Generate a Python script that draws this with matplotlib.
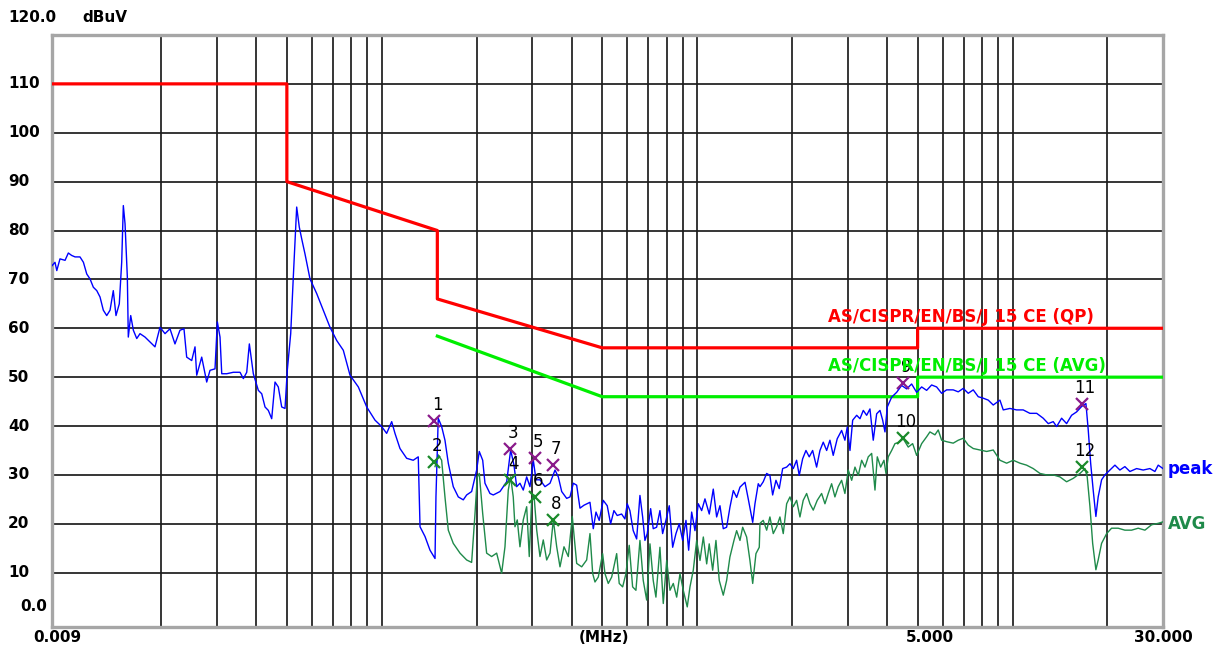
import matplotlib
matplotlib.use("Agg")
import matplotlib.pyplot as plt
from matplotlib.transforms import blended_transform_factory as blend

# ---------------- data ----------------
peak_freq = [
    0.009, 0.0092, 0.00932, 0.00954, 0.0099, 0.01014, 0.01039, 0.01065, 0.01104, 0.01132,
    0.0116, 0.01188, 0.01217, 0.01248, 0.01278, 0.01309, 0.01342, 0.01375, 0.01408, 0.01436,
    0.01471, 0.01497, 0.01515, 0.01534, 0.0156, 0.01571, 0.01599, 0.0163, 0.01671, 0.01711,
    0.01775, 0.01841, 0.01909, 0.0198, 0.02054, 0.0213, 0.02209, 0.02291, 0.02359, 0.02406,
    0.02496, 0.02557, 0.02589, 0.02685, 0.02785, 0.02853, 0.02959, 0.0301, 0.03069, 0.03108,
    0.03223, 0.03382, 0.03552, 0.03639, 0.0373, 0.03802, 0.03914, 0.0406, 0.04162, 0.04263,
    0.04367, 0.04476, 0.04586, 0.04697, 0.04815, 0.04933, 0.05016, 0.05142, 0.05241, 0.05372,
    0.05475, 0.05572, 0.05708, 0.0592, 0.06217, 0.06524, 0.06852, 0.07195, 0.0755, 0.07929,
    0.08425, 0.08957, 0.09517, 0.0999, 0.1036, 0.1075, 0.1101, 0.1142, 0.1199, 0.1258,
    0.1305, 0.1322, 0.1371, 0.1422, 0.1475, 0.1485, 0.151, 0.1548, 0.1586, 0.1625,
    0.1685, 0.1748, 0.1813, 0.1858, 0.1927, 0.1999, 0.2037, 0.2089, 0.2124, 0.2203,
    0.2257, 0.237, 0.2489, 0.2562, 0.2625, 0.2677, 0.2742, 0.2809, 0.288, 0.295,
    0.3023, 0.3083, 0.3174, 0.3292, 0.3415, 0.3542, 0.3628, 0.3719, 0.3857, 0.3952,
    0.4048, 0.4149, 0.425, 0.4376, 0.4572, 0.4684, 0.4777, 0.4891, 0.5036, 0.5186,
    0.5316, 0.5446, 0.5578, 0.576, 0.5901, 0.6001, 0.612, 0.627, 0.6428, 0.6585,
    0.6716, 0.683, 0.6946, 0.712, 0.7256, 0.7438, 0.762, 0.7771, 0.7961, 0.8156,
    0.8362, 0.8566, 0.8774, 0.8995, 0.9215, 0.9398, 0.9606, 0.9841, 1.0081, 1.0334,
    1.0586, 1.0924, 1.1248, 1.1529, 1.181, 1.21, 1.24, 1.2704, 1.302, 1.334,
    1.367, 1.418, 1.452, 1.5, 1.525, 1.5622, 1.582, 1.62, 1.661, 1.701,
    1.7352, 1.7775, 1.8208, 1.8666, 1.922, 1.969, 2.017, 2.067, 2.107, 2.16,
    2.2127, 2.2666, 2.3236, 2.392, 2.451, 2.5107, 2.574, 2.6363, 2.7004, 2.7805,
    2.871, 2.941, 2.992, 3.0517, 3.1124, 3.205, 3.283, 3.363, 3.447, 3.531,
    3.617, 3.7083, 3.799, 3.8744, 3.94, 4.007, 4.137, 4.291, 4.45, 4.616,
    4.787, 4.965, 5.15, 5.341, 5.539, 5.745, 5.959, 6.18, 6.485, 6.727,
    6.978, 7.237, 7.506, 7.785, 8.074, 8.375, 8.686, 9.122, 9.344, 9.812,
    10.30, 10.81, 11.35, 11.93, 12.51, 12.98, 13.46, 13.80, 14.31, 14.84,
    15.39, 15.97, 16.56, 17.09, 17.38, 17.69, 18.02, 18.38, 18.69, 19.16,
    19.63, 20.36, 21.12, 21.90, 22.71, 23.56, 24.74, 25.96, 27.26, 28.28,
    28.97, 30.0,
]
peak_level = [
    72.8, 73.5, 71.8, 74.2, 73.9, 75.4, 74.9, 74.6, 74.6, 73.5,
    71.1, 70.1, 68.4, 67.7, 66.4, 63.7, 62.6, 63.7, 67.7, 62.6,
    65.0, 73.5, 85.1, 81.4, 70.5, 58.2, 62.6, 59.6, 57.9, 58.9,
    58.2, 57.2, 56.2, 60.2, 58.9, 59.9, 56.8, 59.6, 59.9, 54.1,
    53.4, 56.2, 50.4, 54.1, 49.0, 51.4, 51.7, 61.3, 58.2, 50.7,
    50.7, 51.0, 51.0, 49.7, 51.0, 56.8, 50.7, 47.3, 46.6, 43.9,
    43.2, 41.5, 49.0, 48.0, 43.9, 43.6, 51.4, 58.9, 70.5, 84.8,
    80.7, 78.3, 75.2, 70.1, 67.1, 63.7, 60.2, 57.5, 55.5, 50.4,
    48.0, 43.9, 41.2, 39.9, 38.5, 40.9, 38.5, 35.4, 33.4, 33.0,
    33.7, 19.4, 17.4, 14.6, 12.9, 25.5, 41.6, 39.9, 37.1, 32.4,
    27.6, 25.5, 24.9, 25.9, 26.6, 31.0, 34.8, 33.0, 28.3, 26.2,
    25.9, 26.6, 28.6, 35.1, 32.0, 27.6, 28.3, 26.9, 29.6, 27.6,
    33.0, 29.0, 29.0, 27.6, 28.3, 31.0, 29.6, 26.6, 25.2, 25.5,
    28.3, 27.9, 23.2, 23.8, 24.4, 19.0, 22.4, 20.7, 24.8, 23.7,
    20.0, 22.7, 21.7, 22.0, 21.0, 24.1, 22.7, 18.6, 16.9, 25.8,
    21.4, 16.6, 18.0, 23.1, 19.0, 19.3, 22.7, 18.0, 20.7, 23.7,
    15.2, 18.0, 20.0, 16.6, 20.7, 14.6, 22.4, 18.6, 24.1, 22.7,
    25.1, 22.0, 27.1, 21.4, 23.7, 19.0, 19.3, 23.4, 26.8, 25.4,
    27.5, 28.5, 25.1, 20.3, 24.1, 28.2, 27.6, 28.6, 30.3, 29.9,
    25.9, 28.9, 27.2, 31.3, 31.6, 32.3, 31.3, 33.0, 29.9, 33.3,
    35.0, 33.7, 35.0, 31.6, 35.0, 36.7, 35.0, 37.1, 34.0, 37.4,
    39.1, 37.1, 39.8, 35.0, 41.2, 42.2, 41.5, 43.2, 42.2, 43.5,
    37.1, 42.5, 43.2, 41.2, 38.8, 43.9, 45.9, 46.9, 48.3, 47.6,
    48.6, 46.9, 48.0, 47.3, 48.4, 48.0, 46.7, 47.4, 47.4, 47.0,
    47.7, 46.7, 47.4, 46.0, 45.7, 45.3, 44.3, 45.3, 43.3, 43.6,
    43.3, 43.3, 42.6, 42.6, 41.6, 40.5, 40.9, 39.9, 41.6, 40.5,
    42.2, 42.9, 44.0, 44.6, 39.2, 32.4, 26.9, 21.5, 25.5, 29.0,
    30.0, 31.0, 32.0, 31.0, 31.7, 30.7, 31.3, 31.0, 31.3, 30.7,
    32.0, 31.3,
]

avg_freq = [
    0.1475, 0.151, 0.1548, 0.1586, 0.1625, 0.1685, 0.177, 0.1858, 0.1927, 0.1975,
    0.2008, 0.2037, 0.2089, 0.215, 0.223, 0.2313, 0.2399, 0.2458, 0.2518, 0.2562,
    0.2611, 0.2644, 0.2689, 0.2742, 0.2809, 0.288, 0.2935, 0.2987, 0.3038, 0.3099,
    0.3174, 0.3251, 0.3333, 0.3415, 0.3498, 0.3586, 0.3673, 0.3782, 0.3903, 0.4018,
    0.4149, 0.4304, 0.4463, 0.4572, 0.4664, 0.4742, 0.4858, 0.5014, 0.5101, 0.5225,
    0.5357, 0.5556, 0.566, 0.5804, 0.5945, 0.6089, 0.6242, 0.6395, 0.6585, 0.6746,
    0.6916, 0.7085, 0.7256, 0.74, 0.762, 0.7808, 0.8005, 0.82, 0.84, 0.8611,
    0.8821, 0.9036, 0.9302, 0.9489, 0.972, 0.9964, 1.021, 1.046, 1.072, 1.092,
    1.1199, 1.147, 1.1751, 1.21, 1.24, 1.27, 1.3082, 1.334, 1.367, 1.3941,
    1.435, 1.47, 1.5, 1.5361, 1.5737, 1.582, 1.62, 1.661, 1.701, 1.743,
    1.787, 1.83, 1.875, 1.922, 1.969, 2.017, 2.067, 2.118, 2.169, 2.224,
    2.278, 2.334, 2.4028, 2.481, 2.542, 2.604, 2.669, 2.734, 2.801, 2.871,
    2.941, 3.014, 3.09, 3.165, 3.2421, 3.3235, 3.4045, 3.4876, 3.5753, 3.663,
    3.725, 3.8184, 3.9113, 3.969, 4.036, 4.137, 4.238, 4.3732, 4.503, 4.67,
    4.822, 4.965, 5.15, 5.341, 5.471, 5.675, 5.813, 5.959, 6.18, 6.485,
    6.727, 6.978, 7.237, 7.506, 7.883, 8.278, 8.686, 9.122, 9.579, 10.05,
    10.56, 11.08, 11.63, 12.22, 12.83, 13.46, 14.13, 14.84, 15.58, 16.36,
    16.97, 17.25, 17.6, 17.95, 18.38, 18.69, 19.16, 19.88, 20.61, 21.63,
    22.71, 23.85, 25.03, 26.29, 27.6, 28.97, 30.0,
]
avg_level = [
    31.7, 34.1, 33.0, 25.5, 18.7, 16.0, 14.0, 12.6, 12.1, 22.1,
    29.6, 30.3, 22.1, 14.0, 13.3, 14.0, 9.9, 15.3, 26.9, 29.6,
    25.5, 19.4, 20.8, 15.3, 20.8, 23.5, 13.3, 24.9, 25.9, 18.7,
    13.3, 16.7, 12.6, 14.0, 20.8, 15.3, 11.2, 15.3, 13.3, 21.5,
    11.9, 11.2, 12.6, 18.0, 9.8, 8.1, 9.1, 13.9, 9.8, 7.8,
    9.1, 13.9, 7.8, 7.1, 9.8, 15.6, 7.1, 6.4, 16.6, 8.4,
    4.4, 15.9, 8.4, 5.0, 15.2, 3.7, 12.5, 6.4, 7.8, 5.0,
    9.8, 6.4, 3.0, 7.1, 10.5, 16.6, 12.5, 17.3, 11.8, 15.9,
    10.5, 16.6, 8.4, 5.4, 8.4, 13.2, 16.6, 18.6, 16.6, 19.3,
    17.3, 12.5, 7.8, 13.9, 15.2, 20.1, 20.7, 18.7, 21.4, 18.0,
    19.4, 21.4, 18.0, 24.1, 25.5, 23.5, 24.8, 21.4, 24.8, 26.2,
    24.1, 22.8, 24.8, 26.2, 24.1, 26.2, 28.2, 25.5, 27.6, 28.9,
    26.2, 31.0, 28.9, 31.6, 29.9, 33.0, 31.6, 33.7, 34.4, 26.9,
    33.7, 31.6, 33.0, 30.3, 33.7, 35.0, 36.4, 36.7, 37.4, 35.7,
    36.4, 34.0, 36.4, 37.8, 38.8, 38.2, 39.2, 37.1, 36.8, 36.5,
    37.1, 37.5, 36.1, 35.4, 35.1, 34.8, 35.1, 33.0, 32.4, 33.0,
    32.4, 32.0, 31.3, 30.3, 30.0, 30.0, 29.6, 28.6, 29.3, 30.3,
    31.3, 29.6, 23.5, 16.0, 10.6, 12.6, 16.0, 18.0, 19.1, 19.1,
    18.7, 18.7, 19.1, 18.7, 19.8, 20.1, 20.4,
]

qp_limit_freq = [0.009, 0.05, 0.05, 0.15, 0.15, 0.5, 5.0, 5.0, 30.0]
qp_limit_level = [110, 110, 90, 80, 66, 56, 56, 60, 60]
avg_limit_freq = [0.15, 0.5, 5.0, 5.0, 30.0]
avg_limit_level = [58.4, 46, 46, 50, 50]

marker_freq = [0.146, 0.146, 0.255, 0.255, 0.306, 0.306, 0.348, 0.348, 4.48, 4.48, 16.56, 16.56]
marker_level = [41.1, 32.7, 35.4, 29.0, 33.4, 25.4, 32.0, 20.8, 48.9, 37.5, 44.5, 31.7]
marker_label = ["1", "2", "3", "4", "5", "6", "7", "8", "9", "10", "11", "12"]

grid_freq = [0.02, 0.03, 0.04, 0.05, 0.06, 0.07, 0.08, 0.09,
             0.1, 0.2, 0.3, 0.4, 0.5, 0.6, 0.7, 0.8, 0.9,
             1, 2, 3, 4, 5, 6, 7, 8, 9, 10, 20]
y_ticks = [10, 20, 30, 40, 50, 60, 70, 80, 90, 100, 110]
x_tick_freq = [0.009, 5.0, 30.0]
x_tick_label = ["0.009", "5.000", "30.000"]

# ---------------- styling ----------------
PEAK_C = "#0000ff"
AVG_C = "#1f8a4a"
QP_LIM_C = "#ff0000"
AVG_LIM_C = "#00ee00"
PK_MK_C = "#8a1a8a"
AV_MK_C = "#1a8a2a"

plt.rcParams["font.family"] = ["DejaVu Sans"]

W, H = 1218, 648
fig = plt.figure(figsize=(W / 100, H / 100), dpi=100)
fig.patch.set_facecolor("white")
ax = fig.add_axes([52 / W, 21.3 / H, (1163 - 52) / W, (626.7 - 34.5) / H])
ax.set_xscale("log")
ax.set_xlim(0.009, 30)
ax.set_ylim(-1.05, 120.1)

ax.set_xticks(grid_freq)
ax.set_xticks([], minor=True)
ax.set_yticks(y_ticks)
ax.tick_params(which="both", length=0, labelbottom=False, labelleft=False)
ax.grid(True, color="#1c1c1c", lw=1.25)
ax.set_axisbelow(True)
for s in ax.spines.values():
    s.set_color("#a6a6a6")
    s.set_linewidth(2.4)

# limit lines
ax.plot(qp_limit_freq, qp_limit_level, color=QP_LIM_C, lw=2.3, zorder=3)
ax.plot(avg_limit_freq, avg_limit_level, color=AVG_LIM_C, lw=2.3, zorder=3)

# traces
ax.plot(avg_freq, avg_level, color=AVG_C, lw=1.0, zorder=4)
ax.plot(peak_freq, peak_level, color=PEAK_C, lw=1.0, zorder=5)

# markers
for i, (f, v, lab) in enumerate(zip(marker_freq, marker_level, marker_label)):
    c = PK_MK_C if i % 2 == 0 else AV_MK_C
    ax.plot([f], [v], marker="x", ms=8, mew=1.6, color=c, zorder=6, ls="none")
    ax.annotate(lab, xy=(f, v), xytext=(2.5, 5.0), textcoords="offset points",
                ha="center", va="bottom", fontsize=12, color="black", zorder=7)

# limit labels
ax.text(2.6, 62.4, "AS/CISPR/EN/BS/J 15 CE (QP)", color=QP_LIM_C, fontsize=12,
        fontweight="bold", ha="left", va="center", zorder=7)
ax.text(2.6, 52.3, "AS/CISPR/EN/BS/J 15 CE (AVG)", color=AVG_LIM_C, fontsize=12,
        fontweight="bold", ha="left", va="center", zorder=7)

# trace labels at right
tr_r = blend(ax.transAxes, ax.transData)
ax.text(1.004, 31.2, "peak", transform=tr_r, color=PEAK_C, fontsize=12,
        fontweight="bold", ha="left", va="center", clip_on=False)
ax.text(1.004, 20.0, "AVG", transform=tr_r, color=AVG_C, fontsize=12,
        fontweight="bold", ha="left", va="center", clip_on=False)

# y labels
tr_y = blend(fig.transFigure, ax.transData)
for v in y_ticks:
    ax.text(8 / W, v, str(v), transform=tr_y, ha="left", va="center",
            fontsize=11, fontweight="bold", clip_on=False)
ax.text(20 / W, 3.0, "0.0", transform=tr_y, ha="left", va="center",
        fontsize=11, fontweight="bold", clip_on=False)
fig.text(8 / W, 1 - 18 / H, "120.0", ha="left", va="center", fontsize=11, fontweight="bold")
fig.text(82 / W, 1 - 17 / H, "dBuV", ha="left", va="center", fontsize=11, fontweight="bold")

# x labels
tr_x = blend(ax.transData, fig.transFigure)
x_offsets = [4, 9, 0]
for f, lab, dx in zip(x_tick_freq, x_tick_label, x_offsets):
    ax.annotate(lab, xy=(f, 1 - 637 / H), xycoords=tr_x, xytext=(dx, 0),
                textcoords="offset points", ha="center", va="center",
                fontsize=11, fontweight="bold", annotation_clip=False)
fig.text(603.5 / W, 1 - 637 / H, "(MHz)", ha="center", va="center",
         fontsize=11, fontweight="bold")

fig.savefig("out.png", dpi=100, facecolor="white")
